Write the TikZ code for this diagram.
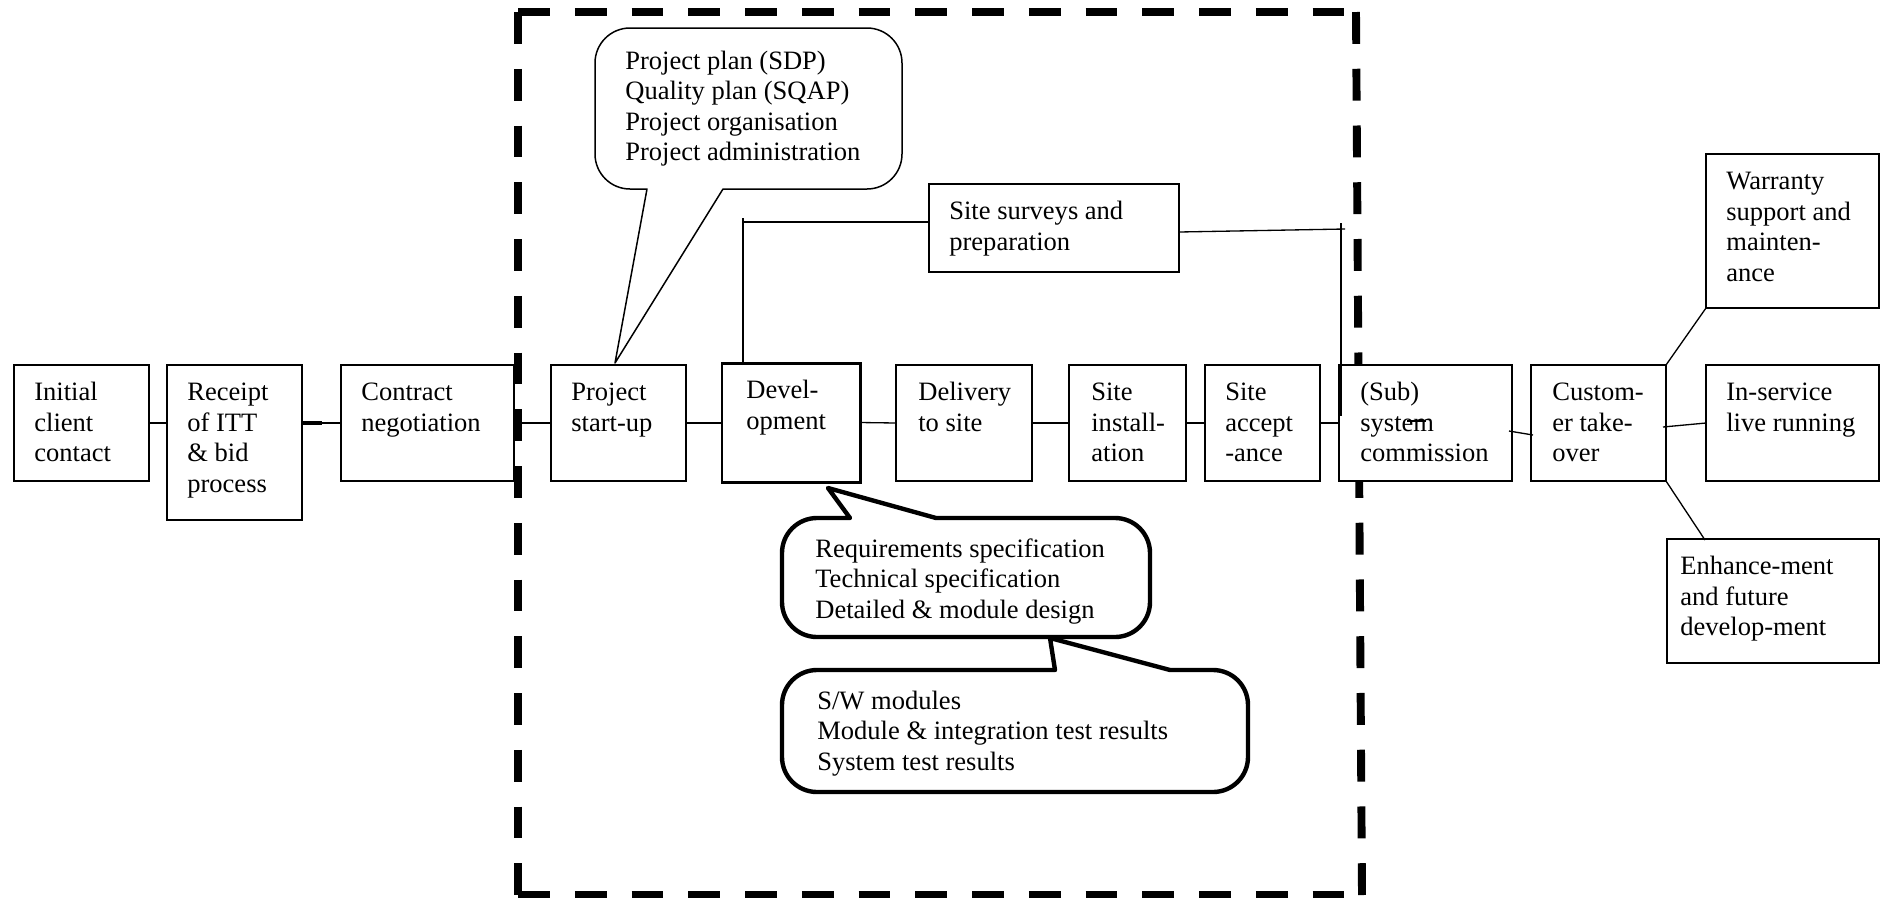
\documentclass[tikz,border=0pt]{standalone}
\usepackage{fontspec}
\setmainfont{Liberation Serif}
\usetikzlibrary{calc}
\newcommand{\fs}{\fontsize{15.1pt}{17.35pt}\selectfont}
\newcommand{\procbox}[8][]{%
  \node[box,#1,minimum width={(#5-#3)*0.02cm},minimum height={(#6-#4)*0.02cm}] (#2) at (#3,#4) {};
  \node[txt] (#2-t) at ([shift={(#7,14.1)}]#2.north west) {\strut#8};}
\begin{document}
\begin{tikzpicture}[x=0.02cm, y=-0.02cm,
  box/.style={draw, fill=white, line width=0.75pt, inner sep=0pt, outer sep=0pt, anchor=north west},
  txt/.style={inner sep=0pt, anchor=north west, align=left, font=\fs},
  conn/.style={line width=0.75pt},
  dashbox/.style={line width=4.5pt, dash pattern=on 18.1pt off 14.2pt},
  bubthin/.style={draw, fill=white, line width=0.85pt, line join=round},
  bubthick/.style={draw, fill=white, line width=2.5pt, line join=round}]
\useasboundingbox (0,0) rectangle (1881,897);
% dashed project boundary
\draw[dashbox] (518,12) -- (1356,12);
\draw[dashbox] (518,12) -- (518,895);
\draw[dashbox] (1356,12) -- (1362,895);
\draw[dashbox] (518,895) -- (1362,895);
% process boxes
\procbox{init}{14}{365}{149}{481}{20}{Initial\\client\\contact}
\procbox{itt}{167}{365}{302}{520}{20}{Receipt\\of ITT\\\& bid\\process}
\procbox{contr}{341}{365}{514}{481}{20}{Contract\\negotiation}
\procbox{start}{551}{365}{686}{481}{20}{Project\\start-up}
\procbox[line width=1.7pt]{dev}{722}{363}{860}{482}{24}{Devel-\\opment}
\procbox{deliv}{896}{365}{1032}{481}{22}{Delivery\\to site}
\procbox{inst}{1069}{365}{1186}{481}{22}{Site\\install-\\ation}
\procbox{acc}{1205}{365}{1320}{481}{20}{Site\\accept\\-ance}
\procbox{sub}{1339}{365}{1512}{481}{21}{(Sub)\\system\\commission}
\procbox{cust}{1531}{365}{1666}{481}{21}{Custom-\\er take-\\over}
\procbox{live}{1706}{365}{1879}{481}{20}{In-service\\live running}
\procbox{warr}{1706}{154}{1879}{308}{20}{Warranty\\support and\\mainten-\\ance}
\procbox{enh}{1667}{539}{1879}{663}{13}{Enhance-ment\\and future\\develop-ment}
\procbox{surv}{929}{184}{1179}{272}{20}{Site surveys and\\preparation}
% connectors
\coordinate (row) at (0,423);
\draw[conn] (init.east) -- (init.east -| itt.west);
\draw[conn] (row -| itt.east) -- (row -| contr.west);
\draw[line width=2pt] (row -| itt.east) -- ++(20,0);
\draw[conn] (contr.east) -- (start.west);
\draw[conn] (start.east) -- (start.east -| dev.west);
\draw[conn] (dev.east) -- (deliv.west);
\draw[conn] (deliv.east) -- (inst.west);
\draw[conn] (inst.east) -- (acc.west);
\draw[conn] (acc.east) -- (sub.west);
\draw[conn] ([shift={(68,-2)}]sub.west) -- ++(19,0);
\draw[conn] ([shift={(-3,8)}]sub.east) -- ([shift={(2,12)}]cust.west);
\draw[conn] ([shift={(-3,4)}]cust.east) -- (live.west);
\draw[conn] (cust.north east) -- (warr.south west);
\draw[conn] (cust.south east) -- ([shift={(38,1)}]enh.north west);
\draw[conn] ([shift={(21,2)}]dev.north west) -- ([shift={(21,-145)}]dev.north west);
\draw[conn] ([shift={(0,-6)}]surv.west) -- ([shift={(-186,-6)}]surv.west);
\draw[conn] ([shift={(0,4)}]surv.east) -- ([shift={(6,-136)}]sub.north west);
\draw[conn] ([shift={(2,-142)}]sub.north west) -- ([shift={(2,51)}]sub.north west);
% callout 1 (project start-up)
\draw[bubthin] (723,189) [rounded corners=0.7cm] -- (902,189) -- (902,28) -- (595,28) -- (595,189) [sharp corners] -- (647,189) -- (615,363) -- cycle;
\node[txt] (b1) at (625,47.6) {\strut Project plan (SDP)\\Quality plan (SQAP)\\Project organisation\\Project administration};
% callout 3 (outputs)
\draw[bubthick] (1055,670) -- (1050,638) -- (1170,670) [rounded corners=0.7cm] -- (1248,670) -- (1248,792) -- (782,792) -- (782,670) [sharp corners] -- cycle;
\node[txt] (b3) at (817,687.6) {\strut S/W modules\\Module \& integration test results\\System test results};
% callout 2 (development)
\draw[bubthick] (850,518) -- (828,488) -- (936,518) [rounded corners=0.7cm] -- (1150,518) -- (1150,637) -- (782,637) -- (782,518) [sharp corners] -- cycle;
\node[txt] (b2) at (815,535.6) {\strut Requirements specification\\Technical specification\\Detailed \& module design};
\end{tikzpicture}
\end{document}
